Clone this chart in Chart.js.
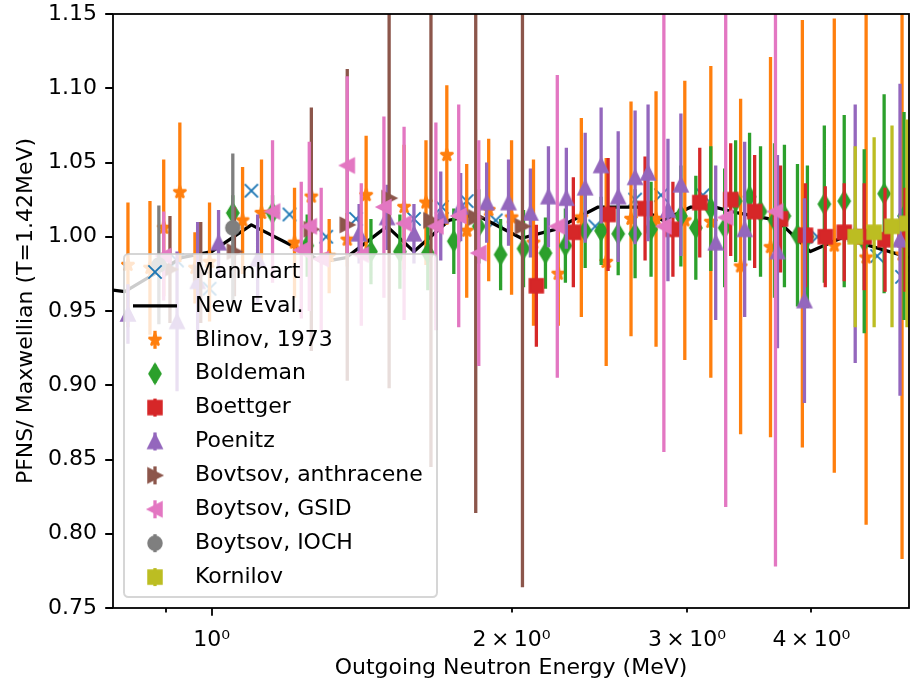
<!DOCTYPE html>
<html lang="en">
<head>
<meta charset="UTF-8">
<title>PFNS / Maxwellian ratio</title>
<style>
  html, body { margin: 0; padding: 0; background: #fff; }
  #wrap { width: 918px; height: 687px; }
</style>
</head>
<body>
<div id="wrap"><canvas id="pfns" width="918" height="687"></canvas></div>
<script src="https://cdn.jsdelivr.net/npm/chart.js"></script>
<script>
// ---- data (energy in MeV, ratio to Maxwellian, 1-sigma errors) ----
const xTickValues = [0.9, 1, 2, 3, 4];
const xTickLabels = ['', '10\u2070', '2\u2009\u00d7\u200910\u2070', '3\u2009\u00d7\u200910\u2070', '4\u2009\u00d7\u200910\u2070'];

const mannhartE = [0.923, 0.995, 1.096, 1.197, 1.303, 1.396, 1.596, 1.702, 1.803, 1.928, 2.427, 2.661, 2.825, 3.112, 4.055, 4.656, 4.932];
const mannhartV = [0.984, 0.965, 1.031, 1.015, 1.000, 1.012, 1.012, 1.020, 1.024, 1.011, 1.007, 1.025, 1.028, 1.028, 1.000, 0.987, 0.973];

const newEvalE = [0.796, 0.818, 0.933, 1.0, 1.096, 1.245, 1.291, 1.365, 1.500, 1.596, 1.730, 1.841, 2.046, 2.213, 2.443, 2.679, 2.838, 3.027, 3.199, 3.373, 3.698, 3.990, 4.315, 4.519, 5.012];
const newEvalV = [0.964, 0.963, 0.986, 0.990, 1.008, 0.989, 0.983, 0.986, 1.007, 0.990, 1.011, 1.015, 0.999, 1.005, 1.020, 1.020, 1.011, 1.020, 1.020, 1.016, 1.011, 0.990, 1.000, 0.995, 0.986];

const blinovE = [0.824, 0.867, 0.895, 0.929, 0.962, 0.995, 1.074, 1.122, 1.211, 1.259, 1.312, 1.368, 1.429, 1.560, 1.641, 1.722, 1.803, 1.897, 2.0, 2.104, 2.228, 2.350, 2.489, 2.636, 2.793, 2.985, 3.170, 3.396, 3.639, 3.917, 4.217, 4.539, 4.932];
const blinovV = [0.981, 0.979, 1.006, 1.030, 0.979, 0.983, 1.011, 1.016, 0.996, 1.027, 0.987, 0.998, 1.028, 1.020, 1.023, 1.055, 1.004, 1.018, 1.013, 0.996, 0.975, 1.013, 0.983, 1.012, 1.012, 1.011, 1.010, 0.980, 0.993, 1.002, 0.994, 0.986, 0.988];
const blinovErr = [0.042, 0.045, 0.046, 0.047, 0.024, 0.040, 0.036, 0.036, 0.037, 0.037, 0.025, 0.018, 0.040, 0.042, 0.042, 0.047, 0.045, 0.048, 0.052, 0.056, 0.035, 0.067, 0.070, 0.079, 0.086, 0.094, 0.105, 0.113, 0.128, 0.144, 0.153, 0.180, 0.205];

const boldemanE = [1.050, 1.151, 1.247, 1.445, 1.545, 1.648, 1.750, 1.854, 1.950, 2.056, 2.163, 2.265, 2.371, 2.460, 2.559, 2.661, 2.761, 2.958, 3.062, 3.170, 3.273, 3.357, 3.467, 3.556, 3.673, 3.758, 3.873, 3.963, 4.121, 4.315, 4.519, 4.732, 4.955];
const boldemanV = [1.016, 1.016, 0.994, 0.990, 0.990, 0.989, 0.997, 1.007, 0.988, 0.992, 0.989, 0.994, 1.004, 1.004, 1.002, 1.002, 1.005, 1.014, 1.006, 1.019, 1.006, 1.024, 1.027, 1.017, 1.011, 1.014, 1.001, 1.000, 1.022, 1.024, 0.997, 1.029, 1.014];
const boldemanErr = [0.012, 0.012, 0.021, 0.022, 0.025, 0.025, 0.022, 0.025, 0.024, 0.026, 0.024, 0.025, 0.025, 0.023, 0.028, 0.030, 0.032, 0.034, 0.035, 0.042, 0.040, 0.041, 0.043, 0.044, 0.052, 0.048, 0.048, 0.048, 0.053, 0.058, 0.062, 0.067, 0.070];

const boettgerE = [2.118, 2.307, 2.500, 2.723, 2.904, 3.090, 3.319, 3.508, 3.724, 3.945, 4.130, 4.315, 4.519, 4.742, 4.966];
const boettgerV = [0.967, 1.003, 1.015, 1.019, 1.005, 1.023, 1.025, 1.017, 1.012, 1.001, 1.000, 1.003, 1.000, 0.998, 0.998];
const boettgerErr = [0.041, 0.037, 0.038, 0.035, 0.032, 0.037, 0.038, 0.038, 0.036, 0.035, 0.034, 0.033, 0.036, 0.035, 0.035];

const poenitzE = [0.824, 0.923, 0.968, 1.016, 1.112, 1.406, 1.500, 1.596, 1.698, 1.778, 1.888, 1.986, 2.089, 2.178, 2.270, 2.371, 2.460, 2.559, 2.661, 2.742, 2.871, 2.958, 3.206, 3.428, 3.698, 3.936, 4.426, 4.909];
const poenitzV = [0.948, 0.943, 0.970, 0.996, 0.985, 1.002, 1.013, 1.002, 1.014, 1.020, 1.023, 1.023, 1.016, 1.027, 1.026, 1.033, 1.048, 1.027, 1.040, 1.043, 1.018, 1.035, 0.996, 1.005, 0.990, 0.957, 1.002, 0.998];
const poenitzErr = [0.020, 0.047, 0.040, 0.022, 0.030, 0.020, 0.022, 0.020, 0.030, 0.023, 0.027, 0.029, 0.030, 0.034, 0.034, 0.037, 0.039, 0.044, 0.045, 0.046, 0.048, 0.048, 0.052, 0.059, 0.065, 0.069, 0.087, 0.105];

const bovtsovE = [0.908, 0.975, 1.054, 1.259, 1.368, 1.507, 1.660, 1.841, 2.051];
const bovtsovV = [0.978, 0.976, 0.990, 1.005, 1.008, 1.026, 1.011, 1.013, 1.007];
const bovtsovErr = [0.036, 0.034, 0.030, 0.082, 0.105, 0.128, 0.166, 0.199, 0.243];

const gsidE = [0.895, 1.151, 1.230, 1.253, 1.288, 1.368, 1.413, 1.489, 1.560, 1.679, 1.770, 1.854, 2.223, 2.844, 3.281, 3.681];
const gsidV = [0.987, 1.017, 0.991, 1.007, 0.985, 1.048, 0.988, 1.020, 1.009, 1.007, 1.014, 0.989, 1.007, 1.007, 1.013, 1.017];
const gsidErr = [0.030, 0.048, 0.046, 0.057, 0.048, 0.060, 0.048, 0.061, 0.065, 0.070, 0.075, 0.076, 0.102, 0.152, 0.195, 0.239];

const iochE = [0.885, 1.050];
const iochV = [0.981, 1.006];
const iochErr = [0.040, 0.050];

const kornilovE = [4.426, 4.624, 4.819, 4.989];
const kornilovV = [1.000, 1.003, 1.007, 1.009];
const kornilovErr = [0.061, 0.064, 0.068, 0.070];

// ---- styling ----
const FONT = 'DejaVu Sans';
Chart.defaults.font.family = FONT;
Chart.defaults.color = '#000';

const MS = 13.3;  // marker size (px)
const EW = 2.2;   // marker edge width
const LW = 3.3;   // line / error bar width

// matplotlib-like filled markers drawn once into small canvases
function markerImage(shape, color) {
  const size = 30;
  const c = document.createElement('canvas');
  c.width = size; c.height = size;
  const g = c.getContext('2d');
  const m = size / 2, h = MS / 2;
  g.fillStyle = color; g.strokeStyle = color; g.lineWidth = EW; g.lineJoin = 'miter';
  g.beginPath();
  if (shape === 'x') {
    g.lineWidth = 1.9;
    g.moveTo(m - h, m - h); g.lineTo(m + h, m + h);
    g.moveTo(m + h, m - h); g.lineTo(m - h, m + h);
    g.stroke();
    return c;
  }
  if (shape === 'circle') {
    g.arc(m, m, h, 0, Math.PI * 2);
  } else if (shape === 'square') {
    g.rect(m - h, m - h, MS, MS);
  } else if (shape === 'diamond') {
    const dy = h * Math.SQRT2, dx = dy * 0.6;
    g.moveTo(m, m - dy); g.lineTo(m + dx, m); g.lineTo(m, m + dy); g.lineTo(m - dx, m);
  } else if (shape === 'star') {
    g.lineJoin = 'bevel';
    for (let i = 0; i < 10; i++) {
      const r = i % 2 ? h * 0.381966 : h;
      const a = -Math.PI / 2 + i * Math.PI / 5;
      const px = m + r * Math.cos(a), py = m + r * Math.sin(a);
      if (i) g.lineTo(px, py); else g.moveTo(px, py);
    }
  } else {
    const rot = {up: 0, right: Math.PI / 2, left: -Math.PI / 2}[shape];
    [[0, -h], [h, h], [-h, h]].forEach(([px, py], i) => {
      const rx = px * Math.cos(rot) - py * Math.sin(rot);
      const ry = px * Math.sin(rot) + py * Math.cos(rot);
      if (i) g.lineTo(m + rx, m + ry); else g.moveTo(m + rx, m + ry);
    });
  }
  g.closePath(); g.fill(); g.stroke();
  return c;
}

function pts(E, V) { return E.map((e, i) => ({x: e, y: V[i]})); }

function series(label, E, V, err, shape, color) {
  return {
    label, data: pts(E, V), errors: err, barColor: color,
    pointStyle: markerImage(shape, color), pointRadius: 8,
    showLine: false, clip: 0
  };
}

const datasets = [
  {label: 'Mannhart', data: pts(mannhartE, mannhartV), pointStyle: markerImage('x', '#1f77b4'), pointRadius: 7, showLine: false, clip: 0},
  {label: 'New Eval.', data: pts(newEvalE, newEvalV), showLine: true, pointRadius: 0, borderColor: '#000', borderWidth: LW, borderJoinStyle: 'round', clip: 0},
  series('Blinov, 1973', blinovE, blinovV, blinovErr, 'star', '#ff7f0e'),
  series('Boldeman', boldemanE, boldemanV, boldemanErr, 'diamond', '#2ca02c'),
  series('Boettger', boettgerE, boettgerV, boettgerErr, 'square', '#d62728'),
  series('Poenitz', poenitzE, poenitzV, poenitzErr, 'up', '#9467bd'),
  series('Bovtsov, anthracene', bovtsovE, bovtsovV, bovtsovErr, 'right', '#8c564b'),
  series('Boytsov, GSID', gsidE, gsidV, gsidErr, 'left', '#e377c2'),
  series('Boytsov, IOCH', iochE, iochV, iochErr, 'circle', '#7f7f7f'),
  series('Kornilov', kornilovE, kornilovV, kornilovErr, 'square', '#bcbd22')
];
// later series paint over earlier ones
datasets.forEach((d, i) => { d.order = datasets.length - i; });

// vertical error bars, drawn just under each series' own markers
const errorBars = {
  id: 'errorBars',
  beforeDatasetDraw(chart, args) {
    const ds = chart.data.datasets[args.index];
    if (!ds.errors) return;
    const {ctx, chartArea: a, scales: {x, y}} = chart;
    ctx.save();
    ctx.beginPath();
    ctx.rect(a.left, a.top, a.right - a.left, a.bottom - a.top);
    ctx.clip();
    ctx.strokeStyle = ds.barColor;
    ctx.lineWidth = LW;
    ctx.beginPath();
    ds.data.forEach((p, i) => {
      const px = x.getPixelForValue(p.x);
      ctx.moveTo(px, y.getPixelForValue(p.y - ds.errors[i]));
      ctx.lineTo(px, y.getPixelForValue(p.y + ds.errors[i]));
    });
    ctx.stroke();
    ctx.restore();
  }
};

// axes box and tick marks
const frame = {
  id: 'frame',
  afterDatasetsDraw(chart) {
    const {ctx, chartArea: a, scales: {x, y}} = chart;
    ctx.save();
    ctx.strokeStyle = '#000';
    ctx.lineWidth = 1.8;
    ctx.strokeRect(a.left, a.top, a.right - a.left, a.bottom - a.top);
    ctx.beginPath();
    y.ticks.forEach(t => {
      const py = Math.round(y.getPixelForValue(t.value));
      ctx.moveTo(a.left, py); ctx.lineTo(a.left - 7.8, py);
    });
    x.ticks.forEach(t => {
      const px = Math.round(x.getPixelForValue(t.value));
      const len = t.value === 1 ? 7.8 : 4.4;
      ctx.moveTo(px, a.bottom); ctx.lineTo(px, a.bottom + len);
    });
    ctx.stroke();
    ctx.restore();
  }
};

// legend box in the lower left of the axes
const legendBox = {
  id: 'legendBox',
  afterDraw(chart) {
    const {ctx} = chart;
    const left = 124, top = 254, w = 313, h = 343, r = 4.4;
    ctx.save();
    ctx.globalAlpha = 0.8;
    ctx.beginPath();
    ctx.moveTo(left + r, top);
    ctx.arcTo(left + w, top, left + w, top + h, r);
    ctx.arcTo(left + w, top + h, left, top + h, r);
    ctx.arcTo(left, top + h, left, top, r);
    ctx.arcTo(left, top, left + w, top, r);
    ctx.closePath();
    ctx.fillStyle = '#fff';
    ctx.fill();
    ctx.lineWidth = 2;
    ctx.strokeStyle = '#cccccc';
    ctx.stroke();
    ctx.globalAlpha = 1;
    ctx.font = '22px ' + FONT;
    ctx.textBaseline = 'middle';
    ctx.textAlign = 'left';
    const hx = 155;
    chart.data.datasets.forEach((ds, i) => {
      const cy = top + 18 + i * 33.9;
      if (ds.showLine) {
        ctx.strokeStyle = '#000';
        ctx.lineWidth = LW;
        ctx.beginPath(); ctx.moveTo(hx - 22, cy); ctx.lineTo(hx + 22, cy); ctx.stroke();
      } else {
        if (ds.errors) {
          ctx.strokeStyle = ds.barColor;
          ctx.lineWidth = LW;
          ctx.beginPath(); ctx.moveTo(hx, cy - 9); ctx.lineTo(hx, cy + 9); ctx.stroke();
        }
        const img = ds.pointStyle;
        ctx.drawImage(img, hx - img.width / 2, cy - img.height / 2);
      }
      ctx.fillStyle = '#000';
      ctx.fillText(ds.label, 195, cy);
    });
    ctx.restore();
  }
};

new Chart(document.getElementById('pfns'), {
  type: 'scatter',
  data: {datasets},
  options: {
    responsive: false,
    animation: false,
    devicePixelRatio: 1,
    layout: {padding: {top: 14, right: 6, left: 0, bottom: 0}},
    plugins: {legend: {display: false}, tooltip: {enabled: false}},
    scales: {
      x: {
        type: 'logarithmic',
        min: 0.796,
        max: 5.012,
        afterBuildTicks: s => { s.ticks = xTickValues.map(v => ({value: v})); },
        afterFit: s => { s.height = 79; s.paddingLeft = 0; s.paddingRight = 0; },
        ticks: {
          autoSkip: false, maxRotation: 0, padding: 19,
          font: {size: 22},
          callback: (v, i) => xTickLabels[i]
        },
        grid: {display: false, drawTicks: false, tickLength: 0},
        border: {display: false},
        title: {display: true, text: 'Outgoing Neutron Energy (MeV)', font: {size: 22}, padding: {top: 0, bottom: 6}}
      },
      y: {
        min: 0.75,
        max: 1.15,
        afterFit: s => { s.width = 113; s.paddingTop = 0; s.paddingBottom = 0; },
        ticks: {
          stepSize: 0.05, padding: 16,
          font: {size: 22},
          callback: v => v.toFixed(2)
        },
        grid: {display: false, drawTicks: false, tickLength: 0},
        border: {display: false},
        title: {display: true, text: 'PFNS/ Maxwellian (T=1.42MeV)', font: {size: 22}, padding: {top: 13, bottom: 0}}
      }
    }
  },
  plugins: [errorBars, frame, legendBox]
});
</script>
</body>
</html>
